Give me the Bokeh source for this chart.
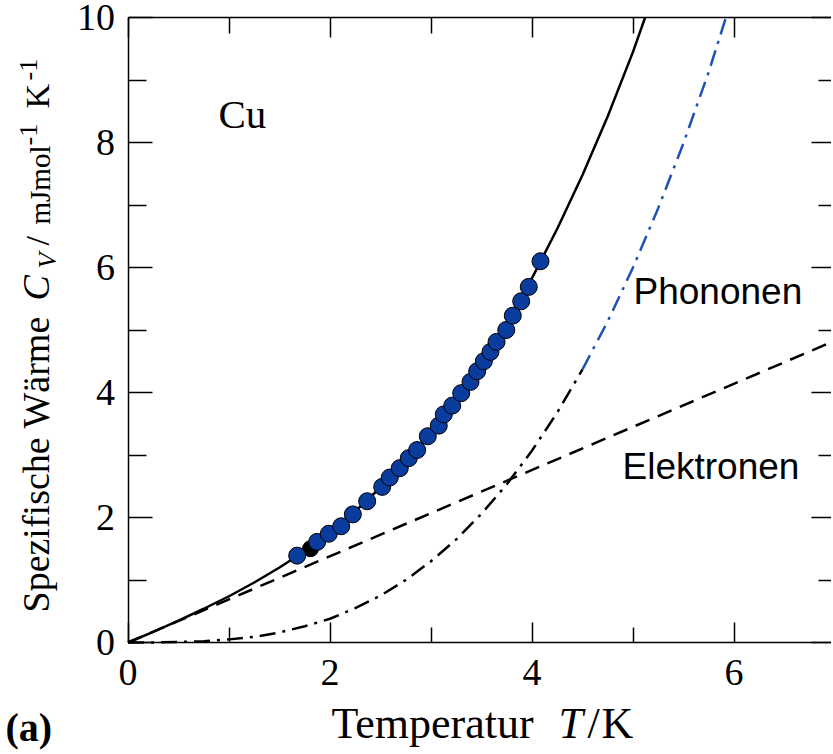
from math import pi
from bokeh.plotting import figure
from bokeh.models import LinearAxis, Label, FixedTicker, Range1d
from bokeh.embed import file_html
from bokeh.resources import INLINE

# ---------------- data ----------------
# total specific heat (solid line), mJ/(mol K)
T_total = [0.0, 0.25, 0.5, 0.75, 1.0, 1.25, 1.5, 1.75, 2.0, 2.25, 2.5, 2.75,
           3.0, 3.25, 3.5, 3.75, 4.0, 4.25, 4.5, 4.75, 5.0, 5.12]
C_total = [0.00, 0.17, 0.35, 0.54, 0.74, 0.96, 1.20, 1.46, 1.76, 2.10, 2.48, 2.90,
           3.37, 3.89, 4.47, 5.12, 5.83, 6.62, 7.48, 8.42, 9.45, 10.0]
# phonon contribution (dash-dot line)
T_phonon = [0.0, 0.25, 0.5, 0.75, 1.0, 1.25, 1.5, 1.75, 2.0, 2.25, 2.5, 2.75,
            3.0, 3.25, 3.5, 3.75, 4.0, 4.25, 4.5, 4.75, 5.0, 5.25, 5.5, 5.75, 5.92]
C_phonon = [0.00, 0.00, 0.01, 0.02, 0.05, 0.09, 0.16, 0.26, 0.38, 0.55, 0.75, 1.00,
            1.30, 1.65, 2.06, 2.53, 3.07, 3.68, 4.37, 5.14, 6.00, 6.95, 7.99, 9.13, 10.0]
# electron contribution (dashed line)
T_el = [0.0, 7.0]
C_el = [0.0, 4.83]
# measured points (blue circles)
T_meas = [1.675, 1.873, 1.988, 2.111, 2.226, 2.368, 2.517, 2.592, 2.691, 2.780,
          2.863, 2.968, 3.077, 3.127, 3.210, 3.299, 3.391, 3.457, 3.523, 3.589,
          3.649, 3.745, 3.810, 3.893, 3.968, 4.084]
C_meas = [1.39, 1.61, 1.74, 1.86, 2.05, 2.26, 2.49, 2.64, 2.79, 2.95,
          3.08, 3.30, 3.47, 3.65, 3.79, 3.99, 4.17, 4.34, 4.50, 4.65,
          4.81, 5.00, 5.23, 5.46, 5.69, 6.10]
# one dark point partly hidden behind the blue ones
T_dark = [1.807]
C_dark = [1.50]

x_major = [0, 2, 4, 6]
x_minor = [1, 3, 5]
y_major = [0, 2, 4, 6, 8, 10]
y_minor = [1, 3, 5, 7, 9]
x_lim = (0, 7)
y_lim = (0, 10)

SERIF = "Liberation Serif"
SANS = "Liberation Sans"

W, H = 831, 752
X0, SX = 127.5, 101.0   # pixel of T=0, pixels per K
Y0, SY = 642.0, 62.5    # pixel of C=0, pixels per unit

p = figure(width=W, height=H,
           x_range=Range1d(-X0 / SX, (W - X0) / SX),
           y_range=Range1d((Y0 - H) / SY, Y0 / SY),
           output_backend="svg", toolbar_location=None,
           x_axis_location=None, y_axis_location=None,
           min_border=0, min_border_left=0, min_border_right=0,
           min_border_top=0, min_border_bottom=0)
p.outline_line_color = None
p.background_fill_color = "white"
p.border_fill_color = "white"
p.grid.visible = False

common = dict(axis_line_width=1.5, axis_line_color="black",
              major_tick_line_width=1.5, minor_tick_line_width=1.5,
              major_tick_out=0, minor_tick_out=0)

xb = LinearAxis(ticker=FixedTicker(ticks=x_major, minor_ticks=x_minor),
                fixed_location=y_lim[0], bounds=x_lim,
                major_tick_in=20, minor_tick_in=15,
                major_label_text_font=SERIF, major_label_text_font_size="38px",
                major_label_text_color="black", major_label_standoff=17, **common)
yl = LinearAxis(ticker=FixedTicker(ticks=y_major, minor_ticks=y_minor),
                fixed_location=x_lim[0], bounds=y_lim,
                major_tick_in=24, minor_tick_in=18,
                major_label_text_font=SERIF, major_label_text_font_size="38px",
                major_label_text_color="black", major_label_standoff=13, **common)
p.add_layout(xb, "below")
p.add_layout(yl, "left")

# top frame side: ticks only (no labels)
xa1 = LinearAxis(ticker=FixedTicker(ticks=[], minor_ticks=x_major), fixed_location=y_lim[1],
                 bounds=x_lim, minor_tick_in=20, **common)
xa2 = LinearAxis(ticker=FixedTicker(ticks=[], minor_ticks=x_minor), fixed_location=y_lim[1],
                 bounds=x_lim, minor_tick_in=16, **common)
xa2.axis_line_color = None
p.add_layout(xa1, "above")
p.add_layout(xa2, "above")
# right frame side: ticks only, frame line lies beyond the picture
yr1 = LinearAxis(ticker=FixedTicker(ticks=[], minor_ticks=y_major), fixed_location=x_lim[1],
                 bounds=y_lim, minor_tick_in=24, **common)
yr2 = LinearAxis(ticker=FixedTicker(ticks=[], minor_ticks=y_minor), fixed_location=x_lim[1],
                 bounds=y_lim, minor_tick_in=17, **common)
yr1.axis_line_color = None
yr2.axis_line_color = None
p.add_layout(yr1, "right")
p.add_layout(yr2, "right")

# curves
p.line(T_el, C_el, line_color="black", line_width=2.5, line_dash="15 9")
n_black = 19  # up to T = 4.5 in black, the rest in blue
p.line(T_phonon[:n_black], C_phonon[:n_black], line_color="black", line_width=2.5,
       line_dash="16 7 3 7")
p.line(T_phonon[n_black - 1:], C_phonon[n_black - 1:], line_color="#1f50b5", line_width=2.5,
       line_dash="16 7 3 7")
p.line(T_total, C_total, line_color="black", line_width=2.5)

# data points
p.scatter(T_dark, C_dark, size=16, fill_color="black", line_color="black")
p.scatter(T_meas, C_meas, size=17, fill_color="#0a3c9e", line_color="black", line_width=1)


def lab(x, y, text, font=SERIF, size=38, style="normal", rotated=False):
    # (x, y): start of the text baseline in picture pixels
    shift = 0.37 * size  # compensates where Bokeh puts the alphabetic baseline
    if rotated:
        x, angle = x - shift, pi / 2
    else:
        y, angle = y - shift, 0.0
    p.add_layout(Label(x=(x - X0) / SX, y=(Y0 - y) / SY, text=text, text_font=font,
                       text_font_size=f"{size}px", text_font_style=style,
                       text_color="black", text_align="left",
                       text_baseline="alphabetic", angle=angle))


# annotations (positions in picture pixels)
lab(218, 129, "Cu", size=41)
lab(633, 305, "Phononen", font=SANS, size=37)
lab(622, 480, "Elektronen", font=SANS, size=37)

# x axis title
lab(331, 739, "Temperatur", size=44)
lab(558, 739, "T", size=44, style="italic")
lab(587, 739, "/", size=44)
lab(601, 739, "K", size=44)
lab(5, 742, "(a)", size=40, style="bold")

# y axis title (rotated, reads bottom to top)
lab(50, 612, "Spezifische Wärme", size=38, rotated=True)
lab(50, 300, "C", size=38, style="italic", rotated=True)
lab(57, 268, "V", size=26, style="italic", rotated=True)
lab(50, 245, "/", size=34, rotated=True)
lab(50, 224, "mJmol", size=29, rotated=True)
lab(38, 145, "-1", size=26, rotated=True)
lab(50, 108, "K", size=34, rotated=True)
lab(38, 80, "-1", size=26, rotated=True)

open("out.html", "w").write(file_html(p, INLINE))
